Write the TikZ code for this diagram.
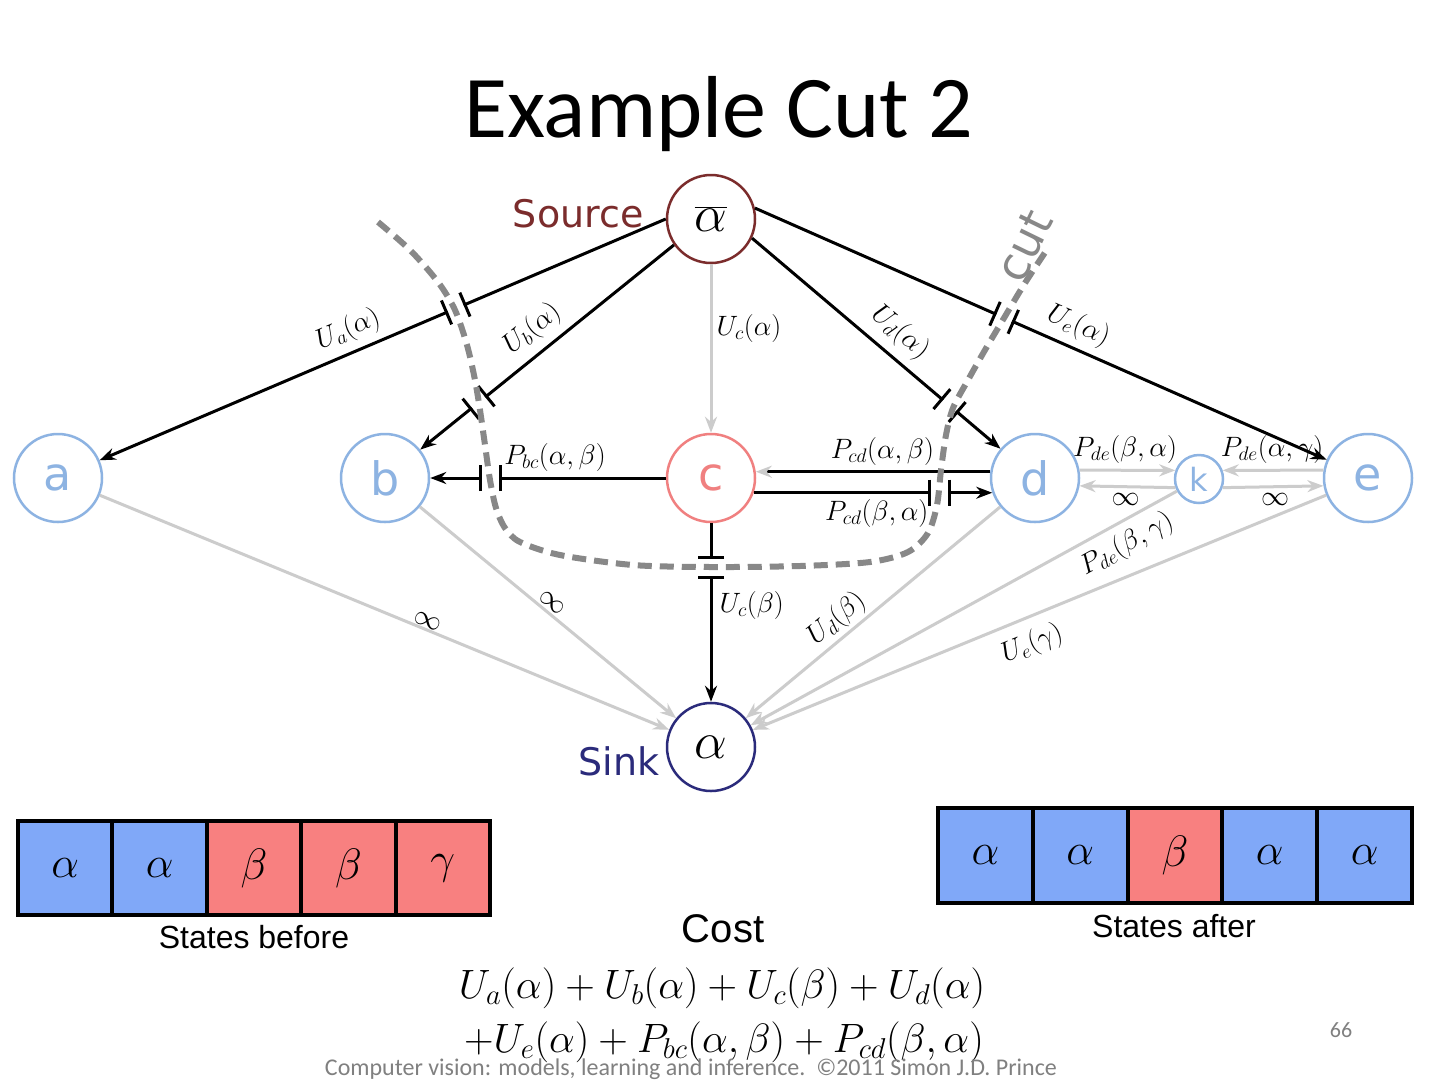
\documentclass[tikz,border=0pt]{standalone}
\usepackage{fix-cm}
\usepackage{fontspec}
\newfontfamily\carlito{Carlito}
\newfontfamily\arialf{Liberation Sans}
\newfontfamily\djv{DejaVu Sans}
\usetikzlibrary{arrows.meta,decorations.markings}
\definecolor{srcred}{HTML}{7B2C2C}
\definecolor{sinkblue}{HTML}{2B2B7B}
\definecolor{nodeblue}{HTML}{8DB3E2}
\definecolor{nodered}{HTML}{F08080}
\definecolor{edgegray}{HTML}{CCCCCC}
\definecolor{cutgray}{HTML}{888888}
\definecolor{cellblue}{HTML}{80A8F8}
\definecolor{cellred}{HTML}{F88080}
\definecolor{footgray}{HTML}{808080}
\newcommand\fsz[1]{\fontsize{#1}{#1}\selectfont}
\begin{document}
\begin{tikzpicture}[x=1pt,y=-1pt,
  gnode/.style={circle, draw=nodeblue, line width=2.5pt, minimum size=88pt, inner sep=0pt, text=nodeblue, font=\djv\fsz{46}},
  knode/.style={gnode, minimum size=48pt, font=\djv\fsz{32}},
  rnode/.style={gnode, draw=nodered, text=nodered},
  blk/.style={line width=3pt, -{Stealth[length=16pt,width=12pt]}},
  gry/.style={draw=edgegray, line width=3pt, -{Stealth[length=16pt,width=12pt]}},
  lbl/.style={font=\fsz{28}, inner sep=1pt},
  cutmark/.style={postaction={decorate}, decoration={markings, mark=at position #1 with {\fill[white] (-8.5,-2.5) rectangle (8.5,2.5); \draw[line width=3pt, black, -] (-10,-13)--(-10,13) (10,-13)--(10,13);}}},
  cell/.style={rectangle, draw=black, line width=4pt, minimum width=94.4pt, minimum height=94pt, inner sep=0pt, font=\fsz{44}},
  cutline/.style={draw=cutgray, line width=6pt, dash pattern=on 14pt off 8pt}
]
\useasboundingbox (0,0) rectangle (1440,1080);
\fill[white] (0,0) rectangle (1440,1080);

% title
\node[anchor=base, font=\carlito\fsz{88}] (title) at (719,137) {Example Cut 2};

% nodes
\node[circle, draw=srcred, line width=2.5pt, minimum size=88pt, inner sep=0pt, font=\fsz{52}] (src) at (711,219) {$\overline{\alpha}$};
\node[circle, draw=sinkblue, line width=2.5pt, minimum size=88pt, inner sep=0pt, font=\fsz{52}] (sink) at (711,747) {$\alpha$};
\node[gnode] (a) at (58,478) {a};
\node[gnode] (b) at (385,478) {b};
\node[rnode] (c) at (711,478) {c};
\node[gnode] (d) at (1035,478) {d};
\node[knode] (k) at (1199,479) {k};
\node[gnode] (e) at (1368,478) {e};
\node[anchor=base east, text=srcred, font=\djv\fsz{38}] (srclbl) at (647,227) {Source};
\node[anchor=base east, text=sinkblue, font=\djv\fsz{38}] (sinklbl) at (663,775) {Sink};

% gray edges to sink
\draw[gry] (a) -- node[lbl, sloped, above=0pt, pos=0.57] {$\infty$} (sink);
\draw[gry] (b) -- node[lbl, sloped, above=2pt, pos=0.49] {$\infty$} (sink);
\draw[gry] (d) -- node[lbl, sloped, above=2pt, pos=0.596] {$U_d(\beta)$} (sink);
\draw[gry] (k) -- node[lbl, sloped, below=6pt, pos=0.143] {$P_{de}(\beta,\gamma)$} (sink);
\draw[gry] (e) -- node[lbl, sloped, below=10pt, pos=0.53] {$U_e(\gamma)$} (sink);

% source edges
\draw[gry] (src) -- node[lbl, right=3pt, pos=0.38] {$U_c(\alpha)$} (c);
\draw[blk, cutmark=0.371] (src.180) -- node[lbl, sloped, above=6pt, pos=0.545] {$U_a(\alpha)$} (a);
\draw[blk, cutmark=0.77] (src.215) -- node[lbl, sloped, above=7pt, pos=0.5] {$U_b(\alpha)$} (b);
\draw[blk, cutmark=0.795] (src.335) -- node[lbl, sloped, above=7pt, pos=0.535] {$U_d(\alpha)$} (d);
\draw[blk, cutmark=0.436] (src.14) -- node[lbl, sloped, above=6pt, pos=0.55] {$U_e(\alpha)$} (e);

% pairwise edges
\draw[blk, cutmark=0.744] (c) -- node[lbl, above=4pt, pos=0.47] {$P_{bc}(\alpha,\beta)$} (b);
\draw[line width=3pt, -{Stealth[length=16pt,width=12pt,color=edgegray]}] (d.172) -- node[lbl, above=4pt, pos=0.46] {$P_{cd}(\alpha,\beta)$} (c.8);
\draw[blk, cutmark=0.78] (c.-19) -- node[lbl, below=4pt, pos=0.516] {$P_{cd}(\beta,\alpha)$} (d.199);
\draw[gry] (d.10) -- node[lbl, above=4pt, pos=0.476] {$P_{de}(\beta,\alpha)$} (k.160);
\draw[gry] (k.200) -- node[lbl, below=4pt, pos=0.52] {$\infty$} (d.-10);
\draw[gry] (e.170) -- node[lbl, above=4pt, pos=0.51] {$P_{de}(\alpha,\gamma)$} (k.20);
\draw[gry] (k.-20) -- node[lbl, below=4pt, pos=0.52] {$\infty$} (e.190);
\draw[blk, cutmark=0.25] (c) -- node[lbl, right=6pt, pos=0.46] {$U_c(\beta)$} (sink);

% cut
\draw[cutline] plot[smooth, tension=0.5] coordinates {(378,222) (410,250) (438,282) (455,310) (467,345) (475,380) (480,410) (485,445) (490,480) (496,508) (505,528) (520,542) (560,555) (633,565) (711,567) (800,566) (870,562) (908,552) (928,533) (937,505) (941,470) (946,435) (953,408) (968,380) (985,350) (1004,318) (1025,283) (1048,248)};
\node[text=cutgray, font=\djv\fsz{46}, rotate=64] (cutlbl) at (1024,246) {cut};

% states before
\node[cell, fill=cellblue] (b1) at (65.2,868) {$\alpha$};
\node[cell, fill=cellblue] (b2) at (159.6,868) {$\alpha$};
\node[cell, fill=cellred] (b3) at (254,868) {$\beta$};
\node[cell, fill=cellred] (b4) at (348.4,868) {$\beta$};
\node[cell, fill=cellred] (b5) at (442.8,868) {$\gamma$};
\node[anchor=base, font=\arialf\fsz{32}] (beforelbl) at (254,948) {States before};

% states after
\node[cell, fill=cellblue, minimum width=94.8pt, minimum height=95pt] (a1) at (985.4,855.5) {$\alpha$};
\node[cell, fill=cellblue, minimum width=94.8pt, minimum height=95pt] (a2) at (1080.2,855.5) {$\alpha$};
\node[cell, fill=cellred, minimum width=94.8pt, minimum height=95pt] (a3) at (1175,855.5) {$\beta$};
\node[cell, fill=cellblue, minimum width=94.8pt, minimum height=95pt] (a4) at (1269.8,855.5) {$\alpha$};
\node[cell, fill=cellblue, minimum width=94.8pt, minimum height=95pt] (a5) at (1364.6,855.5) {$\alpha$};
\node[anchor=base, font=\arialf\fsz{32}] (afterlbl) at (1174,937) {States after};

% cost
\node[anchor=base, font=\arialf\fsz{40}] (cost) at (723,942) {Cost};
\node[font=\fsz{41}] (eq1) at (722,988) {$U_a(\alpha)+U_b(\alpha)+U_c(\beta)+U_d(\alpha)$};
\node[font=\fsz{41}] (eq2) at (724,1042) {$+U_e(\alpha)+P_{bc}(\alpha,\beta)+P_{cd}(\beta,\alpha)$};

% footer
\node[anchor=base, text=footgray, font=\carlito\fsz{24}] (foot) at (691,1075) {Computer vision: models, learning and inference.\ \ ©2011 Simon J.D. Prince};
\node[anchor=base, text=footgray, font=\carlito\fsz{22}] (pnum) at (1341,1037) {66};
\end{tikzpicture}
\end{document}
